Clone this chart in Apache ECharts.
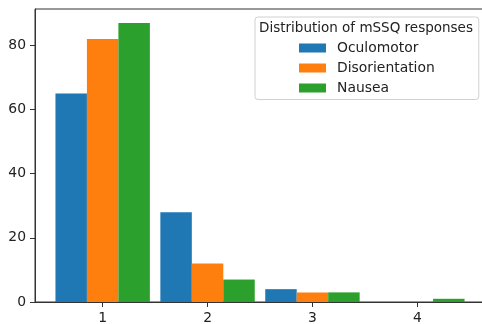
<!DOCTYPE html>
<html>
<head>
<meta charset="utf-8">
<script src="https://cdn.jsdelivr.net/npm/echarts@6/dist/echarts.min.js"></script>
<style>html,body{margin:0;padding:0;background:#fff;}#c{width:482px;height:324px;}</style>
</head>
<body>
<div id="c"></div>
<script>
const categories = [1, 2, 3, 4];
const oculomotor = [65, 28, 4, 0];
const disorientation = [82, 12, 3, 0];
const nausea = [87, 7, 3, 1];
const seriesNames = ['Oculomotor', 'Disorientation', 'Nausea'];
const xTicks = [1, 2, 3, 4];
const yTicks = [0, 20, 40, 60, 80];
const legendTitle = 'Distribution of mSSQ responses';

const colors = ['#1f77b4', '#ff7f0e', '#2ca02c'];
const offsets = [-0.3, 0, 0.3];
const barW = 0.3;
const FONT = 'DejaVu Sans';

function renderItem(params, api) {
  const x = api.value(0), y = api.value(1);
  const off = offsets[params.seriesIndex];
  const p0 = api.coord([x + off - barW / 2, y]);
  const p1 = api.coord([x + off + barW / 2, 0]);
  return {
    type: 'rect',
    shape: { x: p0[0], y: p0[1], width: p1[0] - p0[0], height: p1[1] - p0[1] },
    style: { fill: api.visual('color') }
  };
}

const allSeries = [oculomotor, disorientation, nausea].map((vals, i) => ({
  name: seriesNames[i],
  type: 'custom',
  renderItem: renderItem,
  itemStyle: { color: colors[i] },
  encode: { x: 0, y: 1 },
  data: categories.map((c, j) => [c, vals[j]])
}));

const chart = echarts.init(document.getElementById('c'), null, { renderer: 'canvas' });
chart.setOption({
  animation: false,
  backgroundColor: '#fff',
  grid: { left: 35, top: 9, width: 450, height: 293, show: true, borderColor: '#333', borderWidth: 1, outerBoundsMode: 'none', containLabel: false },
  xAxis: {
    type: 'value', min: 0.355, max: 4.645,
    splitLine: { show: false },
    axisLine: { show: true, lineStyle: { color: '#333', width: 1 } },
    axisTick: { show: true, length: 5, lineStyle: { color: '#333' }, customValues: xTicks },
    axisLabel: { customValues: xTicks, margin: 9, color: '#222', fontFamily: FONT, fontSize: 13.9 }
  },
  yAxis: {
    type: 'value', min: 0, max: 91.35,
    splitLine: { show: false },
    axisLine: { show: true, lineStyle: { color: '#333', width: 1 } },
    axisTick: { show: true, length: 5, lineStyle: { color: '#333' }, customValues: yTicks },
    axisLabel: { customValues: yTicks, margin: 9, color: '#222', fontFamily: FONT, fontSize: 13.9 }
  },
  legend: {
    orient: 'vertical',
    left: 255, top: 17,
    padding: [23, 44, 3.5, 44],
    itemWidth: 27, itemHeight: 9, itemGap: 4,
    icon: 'rect',
    backgroundColor: 'rgba(255,255,255,0.8)',
    borderColor: '#d0d0d0', borderWidth: 1, borderRadius: 3,
    textStyle: { color: '#222', fontFamily: FONT, fontSize: 13.9, lineHeight: 16, padding: [0, 0, 0, 6] },
    data: seriesNames
  },
  graphic: [{
    type: 'text', x: 366, y: 28, z: 100,
    style: { text: legendTitle, textAlign: 'center', textVerticalAlign: 'middle', fill: '#222', font: '13.5px "DejaVu Sans"' }
  }],
  series: allSeries
});
</script>
</body>
</html>
